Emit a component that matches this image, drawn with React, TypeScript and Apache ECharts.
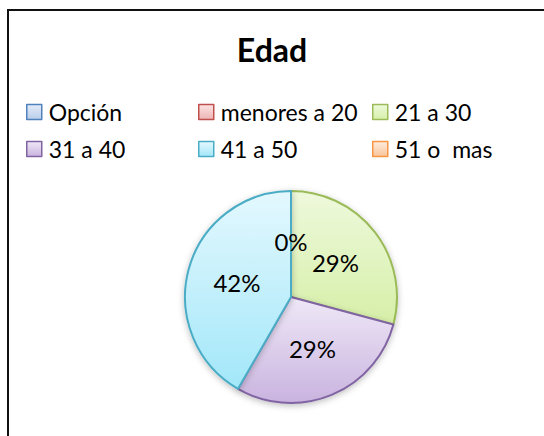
import React, { useEffect, useRef } from "react";
import * as echarts from "echarts";

const categories = ["Opción", "menores a 20", "21 a 30", "31 a 40", "41 a 50", "51 o  mas"];
const values = [0, 0, 7, 7, 10, 0];
const borderColors = ["#4F81BD", "#C0504D", "#9BBB59", "#8064A2", "#4BACC6", "#F79646"];
const fillTop = ["#E3ECF8", "#FBE3E3", "#EEF9DC", "#EFE8F7", "#E4F8FE", "#FDEBDD"];
const fillBottom = ["#B9CDEA", "#EDB5B4", "#D6EFA8", "#C9B3DF", "#A2E7F9", "#F9C59B"];
const showLabel = [false, false, true, true, true, true];
const legendColumns = [
  ["Opción", "31 a 40"],
  ["menores a 20", "41 a 50"],
  ["21 a 30", "51 o  mas"],
];
const legendLefts = [21, 193, 367];

const FONT = "Lato, 'Open Sans', sans-serif";

function grad(i: number) {
  return new echarts.graphic.LinearGradient(0, 0, 0, 1, [
    { offset: 0, color: fillTop[i] },
    { offset: 1, color: fillBottom[i] },
  ]);
}

export default function App() {
  const ref = useRef<HTMLDivElement>(null);
  useEffect(() => {
    if (!ref.current) return;
    const chart = echarts.init(ref.current, undefined, { renderer: "svg" });
    const data = categories.map((name, i) => ({
      name,
      value: values[i],
      itemStyle: { color: grad(i), borderColor: borderColors[i], borderWidth: 2 },
      label: { show: showLabel[i] },
    }));
    chart.setOption({
      animation: false,
      backgroundColor: "#ffffff",
      title: {
        text: "Edad",
        left: 267,
        top: 28,
        textAlign: "center",
        textStyle: { fontFamily: FONT, fontWeight: "bold", fontSize: 32, color: "#000" },
      },
      legend: legendColumns.map((col, c) => ({
        orient: "vertical",
        left: legendLefts[c],
        top: 95,
        itemWidth: 15,
        itemHeight: 15,
        itemGap: 13,
        icon: "rect",
        selectedMode: false,
        data: col.map((name) => {
          const i = categories.indexOf(name);
          return {
            name,
            itemStyle: { color: grad(i), borderColor: borderColors[i], borderWidth: 1.5 },
          };
        }),
        textStyle: { fontFamily: FONT, fontSize: 23, lineHeight: 24, color: "#000", padding: [0, 0, 0, 2] },
      })),
      graphic: [
        {
          type: "rect",
          shape: { x: 8, y: 10, width: 600, height: 500 },
          style: { fill: "none", stroke: "#111", lineWidth: 2 },
          silent: true,
        },
      ],
      series: [
        {
          type: "pie",
          center: [291, 297],
          radius: 106,
          startAngle: 90,
          clockwise: true,
          data,
          label: {
            position: "inside",
            fontFamily: FONT,
            fontSize: 24,
            color: "#000",
            formatter: (p: any) => Math.round(p.percent) + "%",
          },
          labelLine: { show: false },
          emphasis: { disabled: true },
          itemStyle: { shadowBlur: 6, shadowColor: "rgba(0,0,0,0.25)", shadowOffsetY: 2 },
        },
      ],
    });
    return () => chart.dispose();
  }, []);
  return (
    <div
      ref={ref}
      style={{ position: "fixed", left: 0, top: 0, width: 544, height: 436, background: "#fff" }}
    />
  );
}
